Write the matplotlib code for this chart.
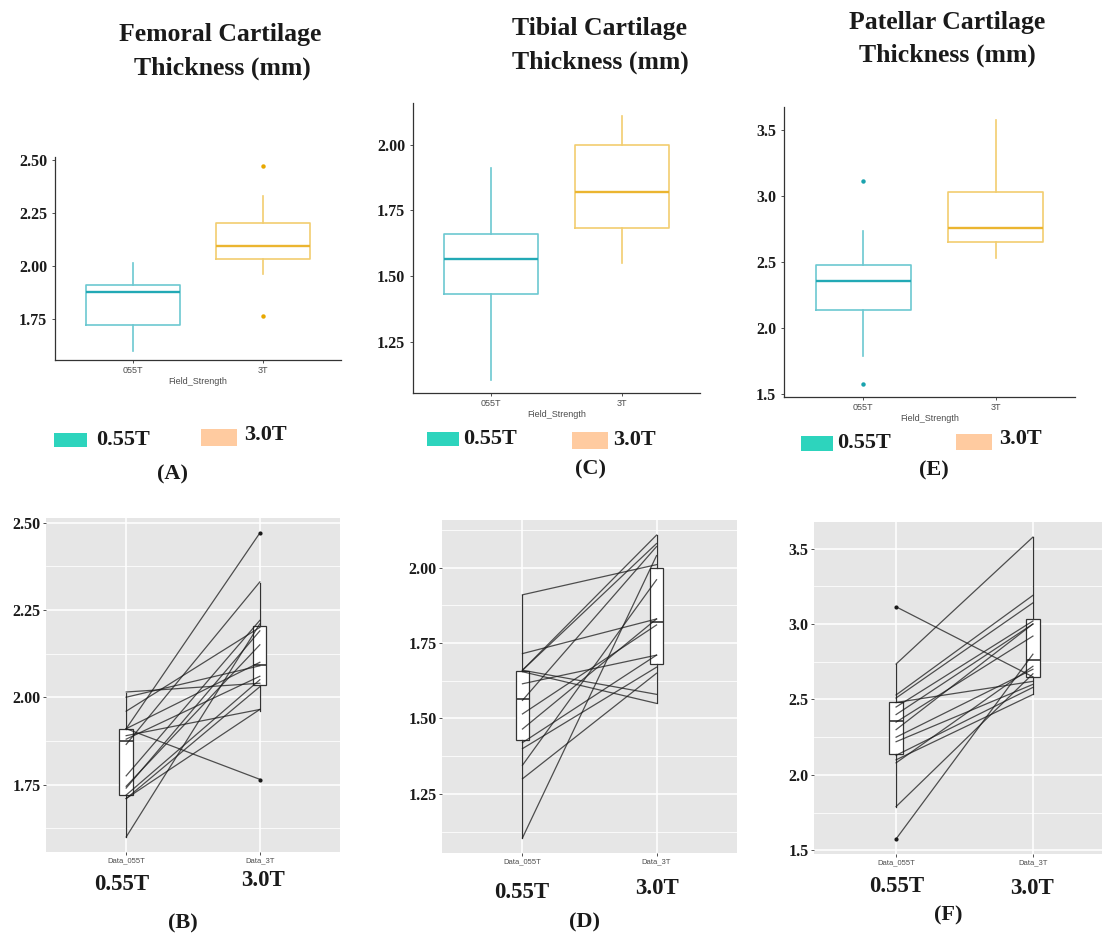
import matplotlib
matplotlib.use("Agg")
import matplotlib.pyplot as plt
from matplotlib.patches import Rectangle
from matplotlib.ticker import MultipleLocator

W, H = 1102, 939
SERIF = 'Liberation Serif'
SANS = 'Liberation Sans'

# ----------------------------
# DATA
# ----------------------------
groups = ['055T', '3T']
paired_labels = ['Data_055T', 'Data_3T']
legend_labels = ['0.55T', '3.0T']

# paired subjects: 0.55T value, 3.0T value
fem_055 = [2.015, 2.00, 1.96, 1.91, 1.91, 1.89, 1.91, 1.865,
           1.775, 1.745, 1.72, 1.71, 1.71, 1.60, 1.88, 1.74]
fem_3 = [2.04, 2.09, 2.20, 2.47, 1.765, 1.965, 2.10, 2.33,
         2.22, 2.15, 2.05, 2.03, 1.965, 2.21, 2.06, 2.19]

tib_055 = [1.91, 1.715, 1.66, 1.66, 1.66, 1.655, 1.615, 1.515,
           1.465, 1.42, 1.345, 1.30, 1.104, 1.40, 1.56]
tib_3 = [2.01, 1.83, 2.108, 2.08, 1.58, 1.55, 1.71, 1.81,
         1.83, 1.71, 1.96, 1.65, 2.04, 1.67, 2.07]

pat_055 = [3.114, 2.735, 2.53, 2.51, 2.48, 2.45, 2.40, 2.35,
           2.30, 2.25, 2.22, 2.13, 2.10, 2.08, 1.79, 1.576]
pat_3 = [2.65, 3.576, 3.19, 3.14, 2.62, 3.02, 3.00, 2.92,
         3.00, 2.70, 2.60, 2.58, 2.533, 2.72, 2.67, 2.80]

# box statistics: [whisker low, Q1, median, Q3, whisker high]
fem_box_055 = [1.60, 1.72, 1.875, 1.91, 2.013]
fem_box_3 = [1.962, 2.034, 2.093, 2.204, 2.328]
fem_out_055 = []
fem_out_3 = [2.47, 1.763]

tib_box_055 = [1.104, 1.430, 1.563, 1.658, 1.909]
tib_box_3 = [1.550, 1.681, 1.820, 2.000, 2.108]
tib_out_055 = []
tib_out_3 = []

pat_box_055 = [1.788, 2.136, 2.359, 2.480, 2.735]
pat_box_3 = [2.533, 2.652, 2.760, 3.030, 3.576]
pat_out_055 = [3.114, 1.576]
pat_out_3 = []

fem_ticks = [1.75, 2.00, 2.25, 2.50]
tib_ticks = [1.25, 1.50, 1.75, 2.00]
pat_ticks = [1.5, 2.0, 2.5, 3.0, 3.5]

TEAL_EDGE = '#6CC8D1'
TEAL_MED = '#22A9B5'
TEAL_PT = '#1AA3AE'
GOLD_EDGE = '#F2CD70'
GOLD_MED = '#EBB530'
GOLD_PT = '#E8A800'
LEG_TEAL = '#2DD4BD'
LEG_PEACH = '#FFCBA0'


def px_axes(fig, x0, y0, x1, y1):
    return fig.add_axes([x0 / W, 1 - y1 / H, (x1 - x0) / W, (y1 - y0) / H])


def box_stats(s, fliers):
    return dict(whislo=s[0], q1=s[1], med=s[2], q3=s[3], whishi=s[4],
                fliers=fliers)


def draw_top(ax, s055, s3, out055, out3, ylim, yticks, fmt):
    specs = [(1, s055, out055, TEAL_EDGE, TEAL_MED, TEAL_PT),
             (2, s3, out3, GOLD_EDGE, GOLD_MED, GOLD_PT)]
    for pos, s, out, edge, med, pt in specs:
        ax.bxp([box_stats(s, out)], positions=[pos], widths=0.72,
               showcaps=False,
               boxprops=dict(color=edge, lw=1.2),
               whiskerprops=dict(color=edge, lw=1.2),
               medianprops=dict(color=med, lw=1.7),
               flierprops=dict(marker='o', markersize=3.2,
                               markerfacecolor=pt, markeredgecolor='none'))
    ax.set_xlim(0.4, 2.6)
    ax.set_ylim(*ylim)
    ax.set_xticks([1, 2])
    ax.set_xticklabels(groups, fontsize=6.5, color='#4D4D4D', family=SANS)
    ax.set_yticks(yticks)
    ax.set_yticklabels([fmt.format(v) for v in yticks], fontsize=11.5,
                       family=SERIF, fontweight='bold', color='#1A1A1A')
    ax.set_xlabel('Field_Strength', fontsize=6.5, color='#4D4D4D',
                  family=SANS, labelpad=1)
    for side in ['top', 'right']:
        ax.spines[side].set_visible(False)
    for side in ['left', 'bottom']:
        ax.spines[side].set_color('#333333')
        ax.spines[side].set_linewidth(0.9)
    ax.tick_params(axis='both', length=2.5, width=0.6, color='#333333', pad=2)
    ax.tick_params(axis='y', pad=3)


def draw_bottom(ax, left, right, s055, s3, out055, out3, ylim, yticks, fmt,
                minor_step):
    ax.set_facecolor('#E6E6E6')
    for pos, s, out in [(1, s055, out055), (2, s3, out3)]:
        ax.bxp([box_stats(s, out)], positions=[pos], widths=0.1,
               showcaps=False, patch_artist=True,
               boxprops=dict(facecolor='white', edgecolor='#333333', lw=0.9),
               whiskerprops=dict(color='#333333', lw=0.9),
               medianprops=dict(color='#333333', lw=1.2),
               flierprops=dict(marker='o', markersize=3,
                               markerfacecolor='#1A1A1A',
                               markeredgecolor='none'),
               zorder=2)
    for a, b in zip(left, right):
        ax.plot([1, 2], [a, b], color='#1A1A1A', alpha=0.75, lw=0.9,
                zorder=3)
    ax.set_xlim(0.4, 2.6)
    ax.set_ylim(*ylim)
    ax.set_xticks([1, 2])
    ax.set_xticklabels(paired_labels, fontsize=5.5, color='#4D4D4D',
                       family=SANS)
    ax.set_yticks(yticks)
    ax.set_yticklabels([fmt.format(v) for v in yticks], fontsize=11.5,
                       family=SERIF, fontweight='bold', color='#1A1A1A')
    ax.yaxis.set_minor_locator(MultipleLocator(minor_step))
    ax.grid(which='major', color='white', lw=1.1)
    ax.grid(which='minor', axis='y', color='white', lw=0.55)
    ax.set_axisbelow(True)
    for side in ax.spines:
        ax.spines[side].set_visible(False)
    ax.tick_params(axis='both', which='major', length=2, width=0.6,
                   color='#333333', pad=2)
    ax.tick_params(which='minor', length=0)


fig = plt.figure(figsize=(W / 100, H / 100), dpi=100)

# ----------------------------
# TOP ROW: BOX PLOTS
# ----------------------------
axA = px_axes(fig, 55, 157, 341, 360)
draw_top(axA, fem_box_055, fem_box_3, fem_out_055, fem_out_3,
         (1.557, 2.513), fem_ticks, '{:.2f}')

axC = px_axes(fig, 413, 103, 700, 393)
draw_top(axC, tib_box_055, tib_box_3, tib_out_055, tib_out_3,
         (1.054, 2.158), tib_ticks, '{:.2f}')

axE = px_axes(fig, 784, 107, 1075, 397)
draw_top(axE, pat_box_055, pat_box_3, pat_out_055, pat_out_3,
         (1.476, 3.676), pat_ticks, '{:.1f}')

# ----------------------------
# BOTTOM ROW: PAIRED PLOTS
# ----------------------------
axB = px_axes(fig, 46, 518, 340, 852)
draw_bottom(axB, fem_055, fem_3, fem_box_055, fem_box_3, fem_out_055,
            fem_out_3, (1.557, 2.513), fem_ticks, '{:.2f}', 0.125)

axD = px_axes(fig, 442, 520, 737, 853)
draw_bottom(axD, tib_055, tib_3, tib_box_055, tib_box_3, tib_out_055,
            tib_out_3, (1.054, 2.158), tib_ticks, '{:.2f}', 0.125)

axF = px_axes(fig, 814, 522, 1115, 854)
draw_bottom(axF, pat_055, pat_3, pat_box_055, pat_box_3, pat_out_055,
            pat_out_3, (1.476, 3.676), pat_ticks, '{:.1f}', 0.25)

# ----------------------------
# TITLES, LEGENDS, PANEL LABELS
# ----------------------------
bold = dict(family=SERIF, fontweight='bold', color='#1A1A1A',
            ha='center', va='center')


def ftext(x, y, s, size, **kw):
    fig.text(x / W, 1 - y / H, s, fontsize=size, **{**bold, **kw})


def frect(x0, y0, x1, y1, color):
    fig.patches.append(Rectangle((x0 / W, 1 - y1 / H), (x1 - x0) / W,
                                 (y1 - y0) / H, transform=fig.transFigure,
                                 facecolor=color, edgecolor='none'))


ftext(220, 34, 'Femoral Cartilage', 18.5)
ftext(222, 68, 'Thickness (mm)', 18.5)
ftext(600, 28, 'Tibial Cartilage', 18.5)
ftext(600, 62, 'Thickness (mm)', 18.5)
ftext(947, 22, 'Patellar Cartilage', 18.5)
ftext(947, 55, 'Thickness (mm)', 18.5)

# legends under top row
frect(54, 433, 87, 447, LEG_TEAL)
ftext(96, 440, legend_labels[0], 16, ha='left')
frect(201, 429, 237, 446, LEG_PEACH)
ftext(244, 435, legend_labels[1], 16, ha='left')

frect(427, 432, 459, 446, LEG_TEAL)
ftext(463, 439, legend_labels[0], 16, ha='left')
frect(572, 432, 608, 449, LEG_PEACH)
ftext(613, 440, legend_labels[1], 16, ha='left')

frect(801, 436, 833, 451, LEG_TEAL)
ftext(837, 443, legend_labels[0], 16, ha='left')
frect(956, 434, 992, 450, LEG_PEACH)
ftext(999, 439, legend_labels[1], 16, ha='left')

ftext(172, 474, '(A)', 16)
ftext(590, 469, '(C)', 16)
ftext(934, 470, '(E)', 16)

# labels under bottom row
ftext(122, 885, legend_labels[0], 16.5)
ftext(263, 880, legend_labels[1], 16.5)
ftext(522, 892, legend_labels[0], 16.5)
ftext(657, 888, legend_labels[1], 16.5)
ftext(897, 887, legend_labels[0], 16.5)
ftext(1032, 888, legend_labels[1], 16.5)

ftext(183, 923, '(B)', 16)
ftext(585, 922, '(D)', 16)
ftext(948, 915, '(F)', 16)

fig.savefig('out.png', dpi=100, facecolor='white')
